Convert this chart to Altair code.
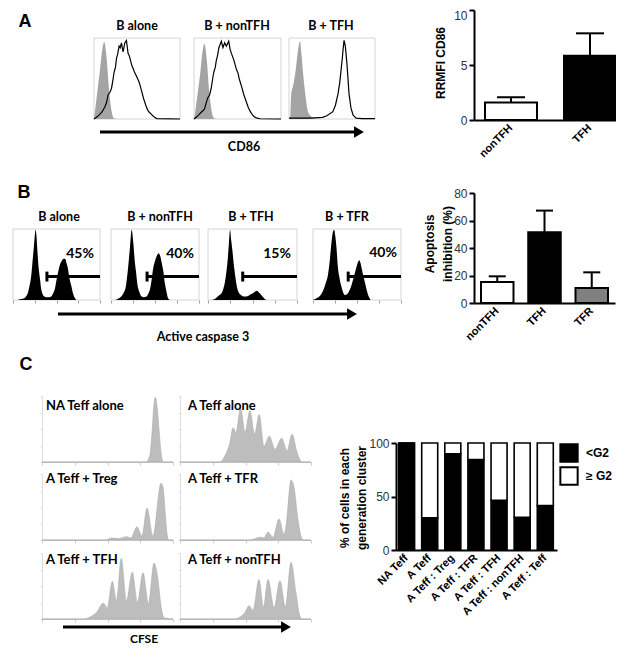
import altair as alt
import pandas as pd

M = 8            # page margin
W, H = 608, 640  # chart size (whole canvas)

# ============================ DATA ============================
# ---- Panel A: CD86 histograms (x: relative CD86 intensity 0-100, y: % of max) ----
a_titles = ["B alone", "B + nonTFH", "B + TFH"]

a1_iso_x = [0, 1, 3.1, 6.9, 10, 11.9, 14.6, 17.6, 20.4, 23, 26]
a1_iso_y = [0, 8, 27, 60, 88, 95, 76, 35, 10, 1, 0]
a1_cd86_x = [0, 1.2, 4, 6.9, 9.5, 12.7, 14.5, 16.5, 18.5, 20.4, 22, 23.4, 25, 26.2, 27.5, 29.2, 30.5, 31.9,
             33.8, 35.8, 37.7, 39.6, 41, 42.3, 44, 45.3, 47, 49.3, 51, 52.3, 54, 55, 57.7, 59, 60.8, 62.5,
             64.6, 66.5, 68.4, 70.5, 73, 100]
a1_cd86_y = [0, 1, 3, 6, 9, 15, 20, 30, 33, 38, 48, 58, 64, 75, 80, 90, 88, 94, 83, 94, 97, 81, 78, 73,
             66, 63, 58, 53, 49, 46, 40, 36, 25, 21, 15, 11, 8, 6, 4, 2, 0.5, 0]

a2_iso_x = [0, 1, 3, 7, 10, 12, 14.6, 17.6, 20.4, 23, 26]
a2_iso_y = [0, 6, 22, 55, 85, 93, 74, 33, 9, 1, 0]
a2_cd86_x = [0, 1.2, 3.5, 6.2, 9, 12, 14, 15.8, 18, 19.8, 21.5, 22.8, 24.5, 25.6, 27, 28.6, 30, 31.4,
             33.3, 35.2, 37.2, 39.9, 41.5, 43, 45.7, 47, 48.8, 50.5, 51.9, 54.7, 57.3, 60.5, 62.5, 64.3,
             66, 68.1, 70.5, 72.8, 76, 100]
a2_cd86_y = [0, 1, 3, 6, 9, 12, 20, 26, 30, 38, 50, 58, 64, 72, 78, 88, 92, 96, 88, 94, 90, 96, 86, 81,
             73, 68, 61, 57, 50, 40, 30, 20, 14, 10, 7, 4, 2, 1, 0.3, 0]

a3_iso_x = [0, 1.5, 2.5, 5, 8, 10.5, 12.8, 14.5, 16.5, 18.6, 20.5, 22, 25, 28, 32]
a3_iso_y = [0, 3, 30, 42, 62, 85, 96, 80, 55, 34, 18, 9, 4, 1, 0]
a3_cd86_x = [0, 10, 20, 30, 39, 44, 51, 54, 57, 59, 60.5, 62, 62.8, 64, 65.5, 67.4, 69.8, 72, 74.4, 78, 85, 100]
a3_cd86_y = [1, 1, 1, 1.5, 2, 4, 9, 17, 31, 45, 60, 75, 85, 97, 90, 68, 31, 14, 5, 1, 0.5, 0.5]

barA_groups = ["nonTFH", "TFH"]
barA_mean = [1.6, 5.85]
barA_sem = [0.46, 2.03]

# ---- Panel B: active caspase 3 histograms ----
b_titles = ["B alone", "B + nonTFH", "B + TFH", "B + TFR"]
b1_x = [0, 5, 8, 12, 15, 17, 19, 21, 22.5, 24, 25, 26, 27, 28, 29.5, 31, 32.5, 34, 36, 38, 41, 44, 46, 48,
        50, 52, 54, 56, 58, 60, 61.5, 63, 65, 67, 69, 71, 73, 100]
b1_y = [0, 0, 1, 2, 5, 10, 20, 35, 55, 75, 90, 99, 90, 70, 45, 30, 15, 8, 5, 4, 4, 5, 9, 15, 28, 40, 50,
        55, 58, 58, 52, 45, 30, 20, 9, 3, 0, 0]
b2_x = [0, 4.5, 7, 10, 14, 17, 19, 21.6, 23.5, 25.4, 27, 28.4, 30, 32, 34, 36.7, 40.5, 42.5, 44.3, 46, 48,
        50, 52, 54, 56.4, 58, 59.5, 61, 62.5, 64, 65, 67, 100]
b2_y = [0, 0, 1, 3, 9, 20, 40, 75, 99, 80, 55, 40, 22, 12, 6, 4, 5, 9, 15, 27, 45, 55, 62, 66, 60, 50, 40,
        25, 15, 6, 2, 0, 0]
b3_x = [0, 4, 7, 10, 13, 15.4, 17.5, 19, 20.5, 22, 23.5, 24.8, 26, 27.4, 29, 30.5, 32, 34, 37, 40, 43,
        45.5, 48, 51, 53, 55, 57, 58.5, 60.5, 62.5, 64, 66, 100]
b3_y = [0, 0, 1, 4, 7, 10, 17, 25, 38, 55, 80, 99, 85, 70, 50, 35, 22, 12, 7, 5, 5, 6, 8, 10, 12, 13, 11,
        9, 6, 3, 1, 0, 0]
b4_x = [0, 2, 5, 8, 11.4, 14, 17.2, 19, 21, 22.5, 24, 25.3, 26.8, 28, 29.7, 31, 32.5, 34.5, 36.3, 38.5,
        40, 42, 44, 45.8, 48, 49.7, 51, 52.6, 54, 55.4, 57, 59.2, 61, 62.9, 64.5, 65.7, 100]
b4_y = [0, 1, 3, 6, 13, 22, 37, 55, 81, 95, 99, 90, 72, 50, 34, 25, 18, 10, 7, 8, 10, 15, 22, 30, 40, 48,
        53, 56, 52, 44, 35, 24, 14, 6, 2, 0, 0]
b_gate_start = [39, 41, 39, 40]
b_gate_pct = ["45%", "40%", "15%", "40%"]

barB_groups = ["nonTFH", "TFH", "TFR"]
barB_mean = [15.3, 51.4, 10.9]
barB_sem = [4.1, 15.8, 11.4]

# ---- Panel C: CFSE dilution histograms ----
c_titles = ["NA Teff alone", "A Teff alone", "A Teff + Treg", "A Teff + TFR", "A Teff + TFH", "A Teff + nonTFH"]
c1_x = [0, 79.5, 81, 82.5, 84, 85.5, 86.5, 87.8, 89.5, 91, 92.5, 100]
c1_y = [0, 0, 3, 12, 45, 88, 98, 85, 45, 12, 0, 0]
c2_x = [0, 30.5, 34.4, 38.2, 40.5, 42.7, 46.3, 49.6, 53.4, 56.9, 60.5, 64.1, 68.2, 72.5, 77.6, 81.7, 85.5,
        89.3, 91.6, 93.1, 100]
c2_y = [0, 0, 10, 30, 52, 45, 82, 45, 78, 42, 72, 24, 39, 19, 36, 17, 42, 15, 3, 0, 0]
c3_x = [0, 48.1, 53.4, 58, 64.9, 67.9, 72.5, 76.3, 80.2, 84.7, 86.3, 88.5, 90.8, 92.4, 93.9, 95.4, 96.6, 100]
c3_y = [0, 0, 3, 2, 5, 3, 20, 6, 48, 6, 20, 60, 86, 80, 45, 10, 0, 0]
c4_x = [0, 53.4, 57.3, 61.1, 64.1, 67.2, 71, 75.6, 79.4, 80.9, 82.4, 84.7, 87, 90.1, 93.1, 94.7, 100]
c4_y = [0, 0, 2, 4, 3, 12, 4, 32, 9, 20, 50, 91, 80, 30, 2, 0, 0]
c5_x = [0, 32.3, 37.7, 41.6, 46.8, 49.8, 53.7, 56.9, 60.5, 64.5, 68.9, 72.9, 77.1, 81.3, 85.5, 88.5, 90.8,
        93.1, 100]
c5_y = [0, 0, 4, 10, 24, 17, 57, 28, 92, 27, 71, 25, 70, 23, 85, 60, 20, 2, 0]
c6_x = [0, 42, 45.8, 49.6, 52.7, 55.7, 60.3, 63.7, 67.2, 71.8, 76.3, 80.5, 84.7, 88.5, 90.8, 93.1, 100]
c6_y = [0, 0, 3, 10, 20, 13, 60, 18, 60, 17, 58, 18, 86, 40, 10, 0, 0]

barC_groups = ["NA Teff", "A Teff", "A Teff : Treg", "A Teff : TFR", "A Teff : TFH", "A Teff : nonTFH",
               "A Teff : Teff"]
barC_lt_g2 = [100, 30, 90, 84.5, 46.5, 30.5, 41.5]
barC_ge_g2 = [0, 70, 10, 15.5, 53.5, 69.5, 58.5]
barC_series = ["<G2", "≥ G2"]

# ============================ LAYOUT (page pixels) ============================
A_X = [(94, 180), (194, 281), (289, 375)]
A_Y = (119, 38)
B_X = [(13, 100), (111, 199), (208, 297), (313, 401)]
B_Y = (300, 229)
C_X = [(42, 173), (180, 311)]
C_Y = [(462, 396), (540, 474), (619, 553)]

SANS = "Liberation Sans"
CAL = "Lato"


def xsc(x0, x1, dom=(0, 100)):
    return alt.Scale(domain=list(dom), range=[x0 - M, x1 - M], nice=False, zero=False)


def ysc(yb, yt, dom=(0, 100)):
    return alt.Scale(domain=list(dom), range=[yb - M, yt - M], nice=False, zero=False)


def curve(xv, yv, xs, ys, kind, xaxis=None, yaxis=None, **mk):
    df = pd.DataFrame({"x": xv, "y": yv})
    base = alt.Chart(df)
    m = base.mark_area(**mk) if kind == "area" else base.mark_line(**mk)
    return m.encode(x=alt.X("x:Q", scale=xs, axis=xaxis), y=alt.Y("y:Q", scale=ys, axis=yaxis))


def frame(xs, ys, xaxis=None):
    df = pd.DataFrame({"x0": [0], "x1": [100], "y0": [0], "y1": [100]})
    return alt.Chart(df).mark_rect(fillOpacity=0, stroke="#d4d4d4", strokeWidth=1).encode(
        x=alt.X("x0:Q", scale=xs, axis=xaxis), x2="x1:Q",
        y=alt.Y("y0:Q", scale=ys, axis=None), y2="y1:Q")


layers = []

# ---------------- Panel A histograms ----------------
a_iso = [(a1_iso_x, a1_iso_y), (a2_iso_x, a2_iso_y), (a3_iso_x, a3_iso_y)]
a_cd = [(a1_cd86_x, a1_cd86_y), (a2_cd86_x, a2_cd86_y), (a3_cd86_x, a3_cd86_y)]
for i, (x0, x1) in enumerate(A_X):
    xs, ys = xsc(x0, x1), ysc(*A_Y)
    layers.append(frame(xs, ys))
    layers.append(curve(*a_iso[i], xs, ys, "area", color="#a4a4a4", opacity=1, interpolate="monotone"))
    layers.append(curve(*a_cd[i], xs, ys, "line", color="black", strokeWidth=1.2, opacity=1,
                        interpolate="linear"))

# ---------------- Panel B histograms ----------------
b_data = [(b1_x, b1_y), (b2_x, b2_y), (b3_x, b3_y), (b4_x, b4_y)]
for i, (x0, x1) in enumerate(B_X):
    xs, ys = xsc(x0, x1), ysc(*B_Y)
    xax = alt.Axis(orient="bottom", offset=(B_Y[0] - M) - H, values=[0, 25, 50, 75, 100], labels=False,
                   domain=False, tickSize=3, tickColor="#a0a0a0", tickWidth=1, title=None, grid=False)
    layers.append(frame(xs, ys, xax))
    layers.append(curve(*b_data[i], xs, ys, "area", color="black", opacity=1, interpolate="monotone"))
    g = pd.DataFrame({"s": [b_gate_start[i]], "e": [100]})
    layers.append(alt.Chart(g).mark_rule(color="black", strokeWidth=3).encode(
        x=alt.X("s:Q", scale=xs, axis=None), x2="e:Q", y=alt.YDatum(33, scale=ys, axis=None)))
    layers.append(alt.Chart(g).mark_rule(color="black", strokeWidth=3).encode(
        x=alt.X("s:Q", scale=xs, axis=None), y=alt.YDatum(26, scale=ys, axis=None), y2=alt.Y2Datum(40)))

# ---------------- Panel C histograms ----------------
c_data = [(c1_x, c1_y), (c2_x, c2_y), (c3_x, c3_y), (c4_x, c4_y), (c5_x, c5_y), (c6_x, c6_y)]
for k, (cx, cy) in enumerate(c_data):
    r, c = divmod(k, 2)
    xs, ys = xsc(*C_X[c]), ysc(*C_Y[r])
    xax = alt.Axis(orient="bottom", offset=(C_Y[r][0] - M) - H, values=[0, 25, 50, 75, 100], labels=False,
                   domainColor="#cccccc", tickColor="#cccccc", tickSize=3, title=None, grid=False)
    yax = alt.Axis(orient="left", offset=-(C_X[c][0] - M), values=[0, 25, 50, 75, 100], labels=False,
                   domainColor="#dddddd", tickColor="#dddddd", tickSize=2, title=None, grid=False)
    layers.append(curve(cx, cy, xs, ys, "area", xaxis=xax, yaxis=yax, fill="#bdbdbd", stroke="#a9a9a9",
                        strokeWidth=0.6, opacity=1, interpolate="monotone"))


# ---------------- Bar charts (A, B) ----------------
def bar_panel(groups, mean, sem, xr, yr, dom, yvals, fills, cap, pin, pout, align):
    df = pd.DataFrame({"grp": groups, "mean": mean, "sem": sem})
    xs = alt.Scale(domain=groups, range=[xr[0] - M, xr[1] - M], paddingInner=pin, paddingOuter=pout,
                   align=align)
    ys = ysc(yr[0], yr[1], dom)
    base = alt.Chart(df).transform_calculate(top="datum.mean + datum.sem")
    xax = alt.Axis(orient="bottom", offset=(yr[0] - M) - H, title=None, domainColor="black", domainWidth=2,
                   ticks=False, labelAngle=-45, labelAlign="right", labelBaseline="middle", labelPadding=6,
                   labelFont=SANS, labelFontWeight="bold", labelFontSize=11, labelColor="black")
    top_val = max(yvals)
    yax = alt.Axis(orient="left", offset=-(xr[0] - M), values=yvals, title=None, domainColor="black",
                   domainWidth=2, tickColor="black", tickWidth=2, tickSize=5, labelFont=SANS,
                   labelFontSize=12, labelColor="#333333", labelPadding=2, grid=False,
                   labelBaseline={"condition": {"test": f"datum.value == {top_val} && {yr[1]} < 16",
                                                "value": "top"}, "value": "middle"})
    bars = base.mark_bar(stroke="black", strokeWidth=2, opacity=1).encode(
        x=alt.X("grp:N", scale=xs, sort=groups, axis=xax),
        y=alt.Y("mean:Q", scale=ys, axis=yax),
        fill=alt.Fill("grp:N", scale=alt.Scale(domain=groups, range=fills), legend=None))
    err = base.mark_rule(color="black", strokeWidth=2).encode(
        x=alt.X("grp:N", scale=xs, sort=groups, axis=None),
        y=alt.Y("mean:Q", scale=ys, axis=None), y2="top:Q")
    capm = base.mark_tick(color="black", thickness=2, size=cap, opacity=1).encode(
        x=alt.X("grp:N", scale=xs, sort=groups, axis=None),
        y=alt.Y("top:Q", scale=ys, axis=None))
    return [bars, err, capm]


layers += bar_panel(barA_groups, barA_mean, barA_sem, (474, 618), (120, 10), (0, 10), [0, 5, 10],
                    ["white", "black"], 28, 0.342, 0.0823, 0.846)
layers += bar_panel(barB_groups, barB_mean, barB_sem, (474, 615), (303, 193), (0, 80), [0, 20, 40, 60, 80],
                    ["white", "black", "#808080"], 17, 0.312, 0.148, 0.5)

# ---------------- Bar chart C (stacked) ----------------
dfC = pd.DataFrame({
    "grp": barC_groups + barC_groups,
    "series": [barC_series[0]] * len(barC_groups) + [barC_series[1]] * len(barC_groups),
    "pct": barC_lt_g2 + barC_ge_g2,
    "ord": [0] * len(barC_groups) + [1] * len(barC_groups),
})
xC = alt.Scale(domain=barC_groups, range=[396 - M, 557 - M], paddingInner=0.307, paddingOuter=0.136, align=0.41)
yC = ysc(550, 443, (0, 100))
layers.append(alt.Chart(dfC).mark_bar(stroke="black", strokeWidth=1.6, opacity=1).encode(
    x=alt.X("grp:N", scale=xC, sort=barC_groups,
            axis=alt.Axis(orient="bottom", offset=(550 - M) - H, title=None, domainColor="black", domainWidth=2,
                          ticks=False, labelAngle=-45, labelAlign="right", labelBaseline="middle",
                          labelPadding=6, labelFont=SANS, labelFontWeight="bold", labelFontSize=11,
                          labelColor="black")),
    y=alt.Y("pct:Q", stack="zero", scale=yC,
            axis=alt.Axis(orient="left", offset=-(396 - M), values=[0, 50, 100], title=None,
                          domainColor="black", domainWidth=2, tickColor="black", tickWidth=2, tickSize=5,
                          labelFont=SANS, labelFontSize=12, labelColor="#333333", labelPadding=2, grid=False)),
    color=alt.Color("series:N", scale=alt.Scale(domain=barC_series, range=["black", "white"]),
                    legend=alt.Legend(orient="none", legendX=559 - M, legendY=443 - M, title=None,
                                      symbolType="square", symbolSize=300, symbolStrokeColor="black",
                                      symbolStrokeWidth=2, labelFont=SANS, labelFontWeight="bold",
                                      labelFontSize=12, labelColor="black", labelOffset=7, rowPadding=-5,
                                      padding=0)),
    order=alt.Order("ord:Q")))


# ---------------- Text annotations ----------------
def text_layer(items, angle=0, **mk):
    df = pd.DataFrame({"t": [t for t, _, _ in items], "x": [x - M for _, x, _ in items],
                       "y": [y - M for _, _, y in items]})
    return alt.Chart(df).mark_text(angle=angle, **mk).encode(
        x=alt.X("x:Q", scale=None, axis=None), y=alt.Y("y:Q", scale=None, axis=None), text="t:N")


letters = [("A", 25, 22), ("B", 24, 193), ("C", 26, 365)]
layers.append(text_layer(letters, font=SANS, fontWeight="bold", fontSize=18, align="center",
                         baseline="middle", color="black"))

a_pos = [(137, 26), (237, 26), (331, 26)]
b_pos = [(59, 217), (160, 217), (251, 217), (347, 217)]
centered = [(t, *p) for t, p in zip(a_titles, a_pos)] + [(t, *p) for t, p in zip(b_titles, b_pos)]
centered += [("CD86", 244, 147), ("Active caspase 3", 203, 337)]
layers.append(text_layer(centered, font=CAL, fontWeight="bold", fontSize=12.5, align="center",
                         baseline="middle", color="black"))
layers.append(text_layer([("CFSE", 144, 639)], font=CAL, fontWeight="bold", fontSize=12, align="center",
                         baseline="middle", color="black"))

c_pos = [(46, 406), (188, 406), (46, 479), (188, 479), (46, 560), (188, 560)]
layers.append(text_layer([(t, *p) for t, p in zip(c_titles, c_pos)], font=CAL, fontWeight="bold",
                         fontSize=13, align="left", baseline="middle", color="black"))

pct_pos = [(80, 254), (180, 254), (277, 254), (383, 253)]
layers.append(text_layer([(t, *p) for t, p in zip(b_gate_pct, pct_pos)], font=CAL, fontWeight="bold",
                         fontSize=14, align="center", baseline="middle", color="black"))

ytitles = [("RRMFI CD86", 441, 63), ("Apoptosis", 430, 244), ("inhibition (%)", 448, 244),
           ("% of cells in each", 345, 498), ("generation cluster", 362, 498)]
layers.append(text_layer(ytitles, angle=270, font=SANS, fontWeight="bold", fontSize=12, align="center",
                         baseline="middle", color="black"))

# ---------------- Axis arrows ----------------
arr = pd.DataFrame({"x": [100 - M, 58 - M, 63 - M], "x2": [356 - M, 349 - M, 283 - M],
                    "hx": [359 - M, 352 - M, 286 - M], "y": [132 - M, 314 - M, 627 - M]})
layers.append(alt.Chart(arr).mark_rule(color="black", strokeWidth=3).encode(
    x=alt.X("x:Q", scale=None, axis=None), x2="x2:Q", y=alt.Y("y:Q", scale=None, axis=None)))
layers.append(alt.Chart(arr).mark_point(shape="triangle-right", filled=True, size=130, color="black",
                                        opacity=1).encode(
    x=alt.X("hx:Q", scale=None, axis=None), y=alt.Y("y:Q", scale=None, axis=None)))

chart = alt.layer(*layers).resolve_scale(
    x="independent", y="independent", color="independent", fill="independent"
).properties(
    width=W, height=H, padding=0, autosize=alt.AutoSizeParams(type="none"), background="white"
).configure_view(stroke=None).configure_axis(grid=False)

chart.save("out.html", embed_options={"renderer": "svg", "actions": False})
